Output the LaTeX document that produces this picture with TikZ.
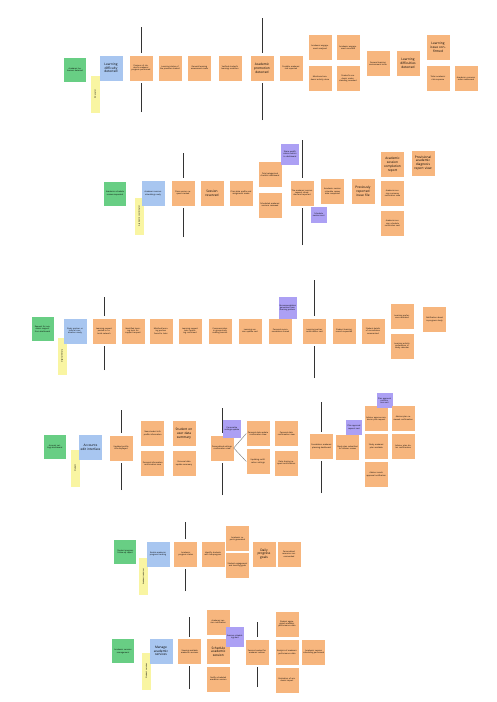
\documentclass[tikz,border=0pt]{standalone}
\usepackage{fontspec}
\setmainfont{Open Sans}
\usepackage{xcolor}
\usepackage{tikz}
\definecolor{stickygreen}{RGB}{104,206,132}
\definecolor{stickyblue}{RGB}{168,198,240}
\definecolor{stickyorange}{RGB}{247,182,126}
\definecolor{stickypurple}{RGB}{172,160,244}
\definecolor{stickyyellow}{RGB}{249,245,162}

\begin{document}
\begin{tikzpicture}[x=1pt,y=-1pt,font=\fontsize{2}{2.4}\selectfont]
                \tikzstyle{note}=[inner sep=1pt,text width=21pt,minimum height=25pt,align=center]
                \tikzstyle{event}=[note,fill=stickyorange]
                \tikzstyle{command}=[note,fill=stickyblue]
                \tikzstyle{readview}=[note,fill=stickygreen,text width=20pt,minimum height=24pt]
                \tikzstyle{policy}=[note,fill=stickypurple,text width=16pt,minimum height=18pt]
                \tikzstyle{actor}=[fill=stickyyellow,rotate=90,minimum width=37pt,minimum height=9pt,inner sep=0.5pt]
                \tikzstyle{big}=[font=\fontsize{3.2}{3.8}\selectfont]
                \tikzstyle{pivot}=[draw=black!80,line width=1pt,shorten >=2pt]
                \tikzstyle{link}=[draw=black!55,line width=0.4pt]
                \fill[white] (0,0) rectangle (497,702);
                \useasboundingbox (0,0) rectangle (497,702);
                % row 1
                \node(g1)[readview] at (75,69.5){Academic behaviour detected};
                \node(y1)[actor] at (95,94){Educator};
                \node(b1)[command,big] at (111,68){Learning difficulty detected};
                \node(e11)[event] at (141,68){Previous of student's academic progress performed};
                \node(e12)[event] at (170,68){Learning status of the previous student};
                \node(e13)[event] at (199.5,68){General learning assessment made};
                \node(e14)[event] at (230,68){Verified student's learning condition};
                \node(e15)[event,big] at (262,68){Academic promotion detected};
                \node(e16)[event] at (291,68){Possible academic risk reported};
                \node(e17)[event] at (320,47.5){Academic engagement analysed};
                \node(e18)[event] at (320,78.5){Monitored academic activity done};
                \node(e19)[event] at (348,47.5){Academic engagement recorded};
                \node(e1a)[event] at (348,78.5){Student's academic understanding recorded};
                \node(e1b)[event] at (378,63.5){General learning environment issue};
                \node(e1c)[event,big] at (408,63.5){Learning difficulties detected};
                \node(e1d)[event,big] at (438,47.5){Learning issue confirmed};
                \node(e1e)[event] at (438,78.5){Tailor academic risk response};
                \node(e1f)[event] at (466,78.5){Academic concerns action addressed};
                \coordinate(t11) at (141,27); \coordinate(u11) at (141,112);
                \coordinate(t12) at (262,18); \coordinate(u12) at (262,120);
                \draw[pivot] (t11) -- (e11.north); \draw[pivot] (u11) -- (e11.south);
                \draw[pivot] (t12) -- (e15.north); \draw[pivot] (u12) -- (e15.south);
                % row 2
                \node(g2)[readview] at (115,193.5){Academic schedule review requested};
                \node(y2)[actor] at (139,216){Academic coordinator};
                \node(b2)[command] at (153,193.5){Academic session scheduling ready};
                \node(e21)[event] at (183,193){Class session request created};
                \node(e22)[event,big] at (212,193){Session reserved};
                \node(e23)[event] at (241,193){Class data profile and assignment made};
                \node(e24)[event] at (270,174.7){Total categorized checklist dashboard};
                \node(e25)[event] at (270,205){Scheduled academic sessions reviewed};
                \node(e26)[event] at (302,193){The academic session request scheduled and reported};
                \node(p21)[policy,minimum height=21pt] at (290,154){Share qualification metrics to dashboard};
                \node(p22)[policy,text width=14pt,minimum height=16pt] at (318.7,215){Schedule session sent};
                \node(e27)[event] at (332.5,191.5){Academic session schedule review data completed};
                \node(e28)[event,big] at (363,191.5){Previously reported issue file};
                \node(e29)[event,big] at (392.5,164.5){Academic session completion report};
                \node(e2a)[event] at (392.5,193.3){Academic session summary notification view};
                \node(e2b)[event] at (392.5,223.3){Academic session schedule notification sent};
                \node(e2c)[event,big] at (423,163){Provisional academic diagnosis report view};
                \coordinate(t21) at (183,153); \coordinate(u21) at (183,237);
                \coordinate(t22) at (302,140); \coordinate(u22) at (302,245);
                \draw[pivot] (t21) -- (e21.north); \draw[pivot] (u21) -- (e21.south);
                \draw[pivot] (t22) -- (e26.north); \draw[pivot] (u22) -- (e26.south);
                % row 3
                \node(g3)[readview] at (42.5,329){Request for academic support from dashboard};
                \node(y3)[actor] at (62,356){Digital library};
                \node(b3)[command] at (75,331){Study partner or tutorial coordination ready};
                \node(e31)[event] at (104,331){Learning request posted to tutorial network};
                \node(e32)[event] at (133,331){Identified learning tools for support request};
                \node(e33)[event] at (161,331){Matched learning partner found to tutor};
                \node(e34)[event] at (190,331){Learning request tutor matching confirmed};
                \node(e35)[event] at (220,331){Communication in group-study reading session};
                \node(e36)[event] at (250,331){Learning session update sent};
                \node(e37)[event] at (280.5,331){Personal recommendation shared};
                \node(p31)[policy,minimum height=22pt] at (287.5,308){Recommendation generated from learning pattern};
                \node(e38)[event] at (314.5,331){Learning partner confirmation sent};
                \node(e39)[event] at (344,331){Student learning record requested};
                \node(e3a)[event] at (373,331){Student details of consultation summarized};
                \node(e3b)[event] at (402,316.7){Learning preference recorded};
                \node(e3c)[event] at (402,346){Learning activity preferences in study calendar};
                \node(e3d)[event] at (434.5,319.3){Notification about in-progress study};
                \coordinate(t31) at (104,297); \coordinate(u31) at (104,370);
                \coordinate(t32) at (314.5,280); \coordinate(u32) at (314.5,378);
                \draw[pivot] (t31) -- (e31.north); \draw[pivot] (u31) -- (e31.south);
                \draw[pivot] (t32) -- (e38.north); \draw[pivot] (u32) -- (e38.south);
                % row 4
                \node(g4)[readview] at (54.7,447){Account settings dashboard};
                \node(y4)[actor] at (75,468){Student};
                \node(b4)[command,big] at (90.5,447.5){Accounts edit interface};
                \node(e41)[event] at (121,448){Updated profile info displayed};
                \node(e42)[event] at (152.7,433.5){New student info profile information};
                \node(e43)[event] at (152.7,463.5){Personal information confirmation view};
                \node(e44)[event,big] at (184,433.5){Student on user data summary};
                \node(e45)[event] at (184,463.5){Personal data update summary};
                \node(e46)[event] at (222,448){Personalized settings confirmation view};
                \node(p41)[policy] at (232,429){Personalize settings update};
                \node(e47)[event] at (258,433.5){Personal data update confirmation view};
                \node(e48)[event] at (258,461.5){Updating notification settings};
                \node(e49)[event] at (286.3,433.5){Personal data confirmation view};
                \node(e4a)[event] at (286.3,463){Data sharing request confirmation};
                \node(e4b)[event] at (321.5,446.5){Foundation academic planning dashboard};
                \node(e4c)[event] at (347.5,447.5){Study plan submitted for advisor review};
                \node(p42)[policy,text width=14pt,minimum height=15pt] at (354,427.5){Plan approval request sent};
                \node(e4d)[event] at (376.3,418.7){Advisor approve academic plan request};
                \node(e4e)[event] at (376.3,446.5){Study academic plan available};
                \node(e4f)[event] at (376.3,474.5){Advisor sends approval notification};
                \node(p43)[policy,text width=14pt,minimum height=15pt] at (384.5,400.8){Plan approval notification sent};
                \node(e4g)[event] at (403.3,418.3){Advisor plan reviewed confirmation};
                \node(e4h)[event] at (403.3,446.5){Advisor plan status confirmation};
                \coordinate(t41) at (121,410); \coordinate(u41) at (121,490);
                \coordinate(t42) at (222,408); \coordinate(u42) at (222,495);
                \coordinate(t43) at (321.5,402); \coordinate(u43) at (321.5,493);
                \draw[pivot] (t41) -- (e41.north); \draw[pivot] (u41) -- (e41.south);
                \draw[pivot] (t42) -- (e46.north); \draw[pivot] (u42) -- (e46.south);
                \draw[pivot] (t43) -- (e4b.north); \draw[pivot] (u43) -- (e4b.south);
                \draw[link] (e46.east) -- (e47.west);
                \draw[link] (e46.east) -- (e48.west);
                % row 5
                \node(g5)[readview] at (125.3,551.7){Student progress follow-up report};
                \node(y5)[actor] at (143.3,576.7){Academic advisor};
                \node(b5)[command] at (158,554){Enable academic progress tracking};
                \node(e51)[event] at (185.8,554){Academic progress status};
                \node(e52)[event] at (213,554){Identify students with low progress};
                \node(e53)[event] at (237.5,538.7){Academic reports generated};
                \node(e54)[event] at (237.5,565){Student engagement and learning goals};
                \node(e55)[event,big] at (264,554){Daily progress goals};
                \node(e56)[event] at (289,554){Personalized resources recommended};
                \coordinate(t51) at (185.8,522); \coordinate(u51) at (185.8,591);
                \draw[pivot] (t51) -- (e51.north); \draw[pivot] (u51) -- (e51.south);
                % row 6
                \node(g6)[readview] at (123,651.3){Academic services management};
                \node(y6)[actor] at (146.3,671){Student services};
                \node(b6)[command,big] at (161,651){Manage academic services};
                \node(e61)[event] at (189.7,651.7){Viewing available academic sessions};
                \node(e62)[event] at (218.3,622){Academic session notification};
                \node(e63)[event,big] at (218.3,651.7){Schedule academic session};
                \node(e64)[event] at (218.3,679){Notify scheduled academic session};
                \node(p61)[policy,minimum height=20pt] at (235,636.7){Session scheduling alert};
                \node(e65)[event] at (257,652){Session booked for academic advisor};
                \node(e66)[event] at (287,624){Student aggregated academic performance data};
                \node(e67)[event] at (287,652.5){Analysis of academic performance data};
                \node(e68)[event] at (287,680){Evaluation of academic impact};
                \node(e69)[event] at (313.7,652){Academic session scheduling performed};
                \coordinate(t61) at (189.7,617); \coordinate(u61) at (189.7,689);
                \coordinate(t62) at (257,622); \coordinate(u62) at (257,687);
                \draw[pivot] (t61) -- (e61.north); \draw[pivot] (u61) -- (e61.south);
                \draw[pivot] (t62) -- (e65.north); \draw[pivot] (u62) -- (e65.south);
\end{tikzpicture}
\end{document}
